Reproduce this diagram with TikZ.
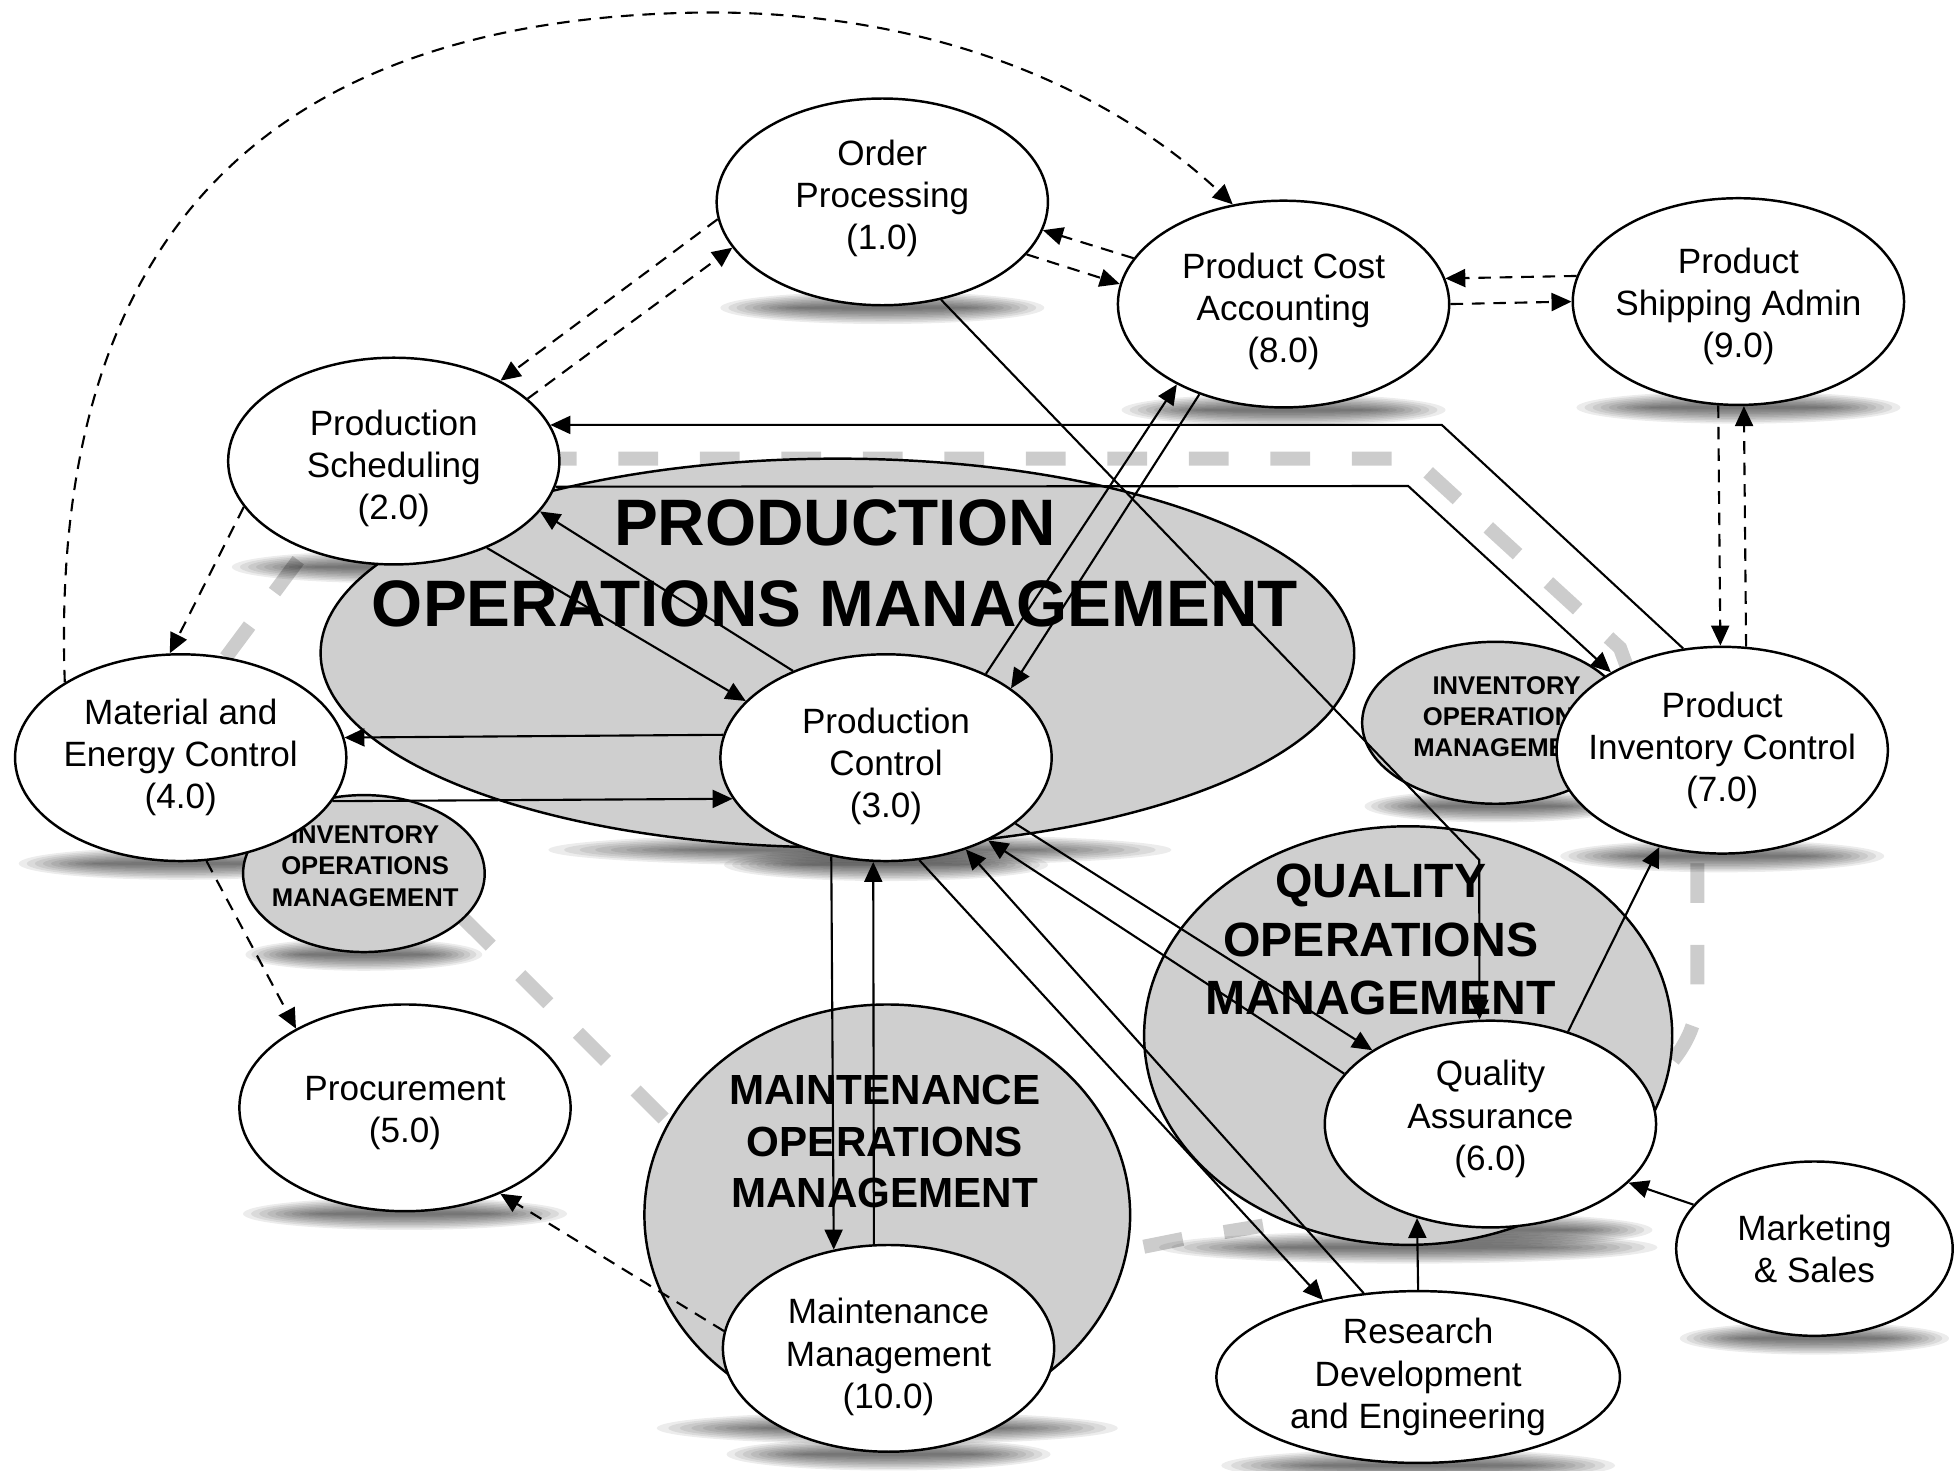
\documentclass[tikz,border=0pt]{standalone}
\usepackage{fontspec}
\setmainfont{Liberation Sans}
\usetikzlibrary{arrows.meta,shapes.geometric}
\newcommand\myshadow[3]{\foreach \k in {1,...,10} {\fill[black, fill opacity=0.075] (#1,#2) ellipse [x radius={#3*(0.5+0.05*\k)}, y radius={1.3*\k}];}}
\begin{document}
\begin{tikzpicture}[x=0.01246cm, y=-0.01246cm,
  proc/.style={ellipse, draw=black, line width=0.7pt, fill=white, inner sep=0pt,
    minimum width=3.314cm, minimum height=2.068cm},
  region/.style={ellipse, draw=black, line width=0.7pt, fill=black!19, inner sep=0pt},
  ptext/.style={font=\fontsize{10}{12}\selectfont, align=center, inner sep=0pt},
  pomtext/.style={font=\fontsize{18.7}{23}\selectfont\bfseries, align=center, inner sep=0pt},
  qomtext/.style={font=\fontsize{13.7}{16.6}\selectfont\bfseries, align=center, inner sep=0pt},
  momtext/.style={font=\fontsize{12}{14.7}\selectfont\bfseries, align=center, inner sep=0pt},
  invtext/.style={font=\fontsize{7.3}{8.9}\selectfont\bfseries, align=center, inner sep=0pt},
  conn/.style={line width=0.6pt, -{Triangle[length=0.2cm, width=0.18cm]}},
  dconn/.style={conn, dash pattern=on 3.6pt off 2.5pt},
  graydash/.style={draw=black!20, line width=4pt, dash pattern=on 11.3pt off 11.9pt},
]
\useasboundingbox (0,0) rectangle (1568,1180);

% gray dashed boundary
\draw[graydash] (300,368) -- (1134,368) -- (1300,520) -- (1362,690) -- (1362,800)
  .. controls (1362,900) and (1150,965) .. (960,992) -- (905,1003) -- (630,995)
  -- (393,758) -- (172,540) -- cycle;

% shadows
\myshadow{690}{682}{250}
\myshadow{292}{766}{95}
\myshadow{1200}{647}{105}
\myshadow{1130}{1001}{200}
\myshadow{712}{1146}{185}
\myshadow{708}{247}{130}
\myshadow{316}{455}{130}
\myshadow{711}{694}{130}
\myshadow{145}{693}{130}
\myshadow{325}{974}{130}
\myshadow{1196}{987}{130}
\myshadow{1382}{687}{130}
\myshadow{1030}{329}{130}
\myshadow{1395}{327}{130}
\myshadow{713}{1167}{130}
\myshadow{1138}{1176}{158}
\myshadow{1456}{1074}{108}

% gray regions
\node[region, minimum width=10.34cm, minimum height=3.888cm] (pom) at (672,524) {};
\node[region, minimum width=2.417cm, minimum height=1.570cm] (invl) at (292,701) {};
\node[region, minimum width=2.666cm, minimum height=1.620cm] (invr) at (1200,580) {};
\node[region, minimum width=5.283cm, minimum height=4.187cm] (qom) at (1130,831) {};
\node[region, minimum width=4.859cm, minimum height=4.212cm] (mom) at (712,975) {};

\node[pomtext] (pomt) at (670,452) {PRODUCTION\\OPERATIONS MANAGEMENT};
\node[qomtext] (qomt) at (1108,754) {QUALITY\\OPERATIONS\\MANAGEMENT};
\node[momtext] (momt) at (710,916) {MAINTENANCE\\OPERATIONS\\MANAGEMENT};
\node[invtext] (invlt) at (293,695) {INVENTORY\\OPERATIONS\\MANAGEMENT};
\node[invtext] (invrt) at (1209,575) {INVENTORY\\OPERATIONS\\MANAGEMENT};

% process nodes
\node[proc, label={[ptext, yshift=0.035cm]center:Order\\Processing\\(1.0)}] (n1) at (708,162) {};
\node[proc, label={[ptext, yshift=-0.075cm]center:Production\\Scheduling\\(2.0)}] (n2) at (316,370) {};
\node[proc, label={[ptext, yshift=-0.087cm]center:Production\\Control\\(3.0)}] (n3) at (711,608) {};
\node[proc, label={[ptext]center:Material and\\Energy Control\\(4.0)}] (n4) at (145,608) {};
\node[proc, label={[ptext, yshift=-0.05cm]center:Procurement\\(5.0)}] (n5) at (325,889) {};
\node[proc, label={[ptext, yshift=0.05cm]center:Quality\\Assurance\\(6.0)}] (n6) at (1196,902) {};
\node[proc, label={[ptext]center:Product\\Inventory Control\\(7.0)}] (n7) at (1382,602) {};
\node[proc, label={[ptext, yshift=-0.075cm]center:Product Cost\\Accounting\\(8.0)}] (n8) at (1030,244) {};
\node[proc, label={[ptext, yshift=-0.05cm]center:Product\\Shipping Admin\\(9.0)}] (n9) at (1395,242) {};
\node[proc, label={[ptext, yshift=-0.087cm]center:Maintenance\\Management\\(10.0)}] (n10) at (713,1082) {};
\node[proc, minimum width=4.037cm, minimum height=1.719cm,
  label={[ptext]center:Research\\Development\\and Engineering}] (rde) at (1138,1105) {};
\node[proc, minimum width=2.766cm, minimum height=1.744cm,
  label={[ptext]center:Marketing\\\& Sales}] (ms) at (1456,1002) {};

% helper coordinates
\coordinate (arctop) at (570,10);
\coordinate (c1) at (1157,341);
\coordinate (c2) at (1130,390);
\coordinate (c3) at (1187,690);

% dashed connectors
\draw[dconn] (n4.147) .. controls (38,165) and (240,12) .. (arctop)
  .. controls (770,10) and (905,85) .. (n8.117);
\draw[dconn] (n1.186) -- (n2.37);
\draw[dconn] (n2.25) -- (n1.197.5);
\draw[dconn] (n8.163) -- (n1.350);
\draw[dconn] (n1.340) -- (n8.173.5);
\draw[dconn] (n9.171.7) -- (n8.9.2);
\draw[dconn] (n8.0) -- (n9.180.9);
\draw[dconn] (n9.259.7) -- (n7.91.4);
\draw[dconn] (n7.77.65) -- (n9.273.45);
\draw[dconn] (n2.197.4) -- (n4.96.9);
\draw[dconn] (n4.284) -- (n5.144.5);
\draw[dconn] (n10.174.2) -- (n5.318.4);

% solid connectors
\draw[conn] (n7.111.9) -- (c1) -- (n2.13);
\draw[conn] (n2.351.3) -- (c2) -- (n7.145.6);
\draw[conn] (n2.317.4) -- (n3.158);
\draw[conn] (n3.137.7) -- (n2.341.9);
\draw[conn] (n3.172.6) -- (n4.7.44);
\draw[conn] (n4.344.9) -- (n3.195);
\draw[conn] (n3.40.1) -- (n8.217.8);
\draw[conn] (n8.227.7) -- (n3.29.7);
\draw[conn] (n1.301.5) -- (c3) -- (n6.96.5);
\draw[conn] (n6.50.4) -- (n7.237);
\draw[conn] (n3.241.9) -- (n10.119.3);
\draw[conn] (n10.98.3) -- (n3.263.1);
\draw[conn] (n3.333) -- (n6.148.2);
\draw[conn] (n6.161.3) -- (n3.321.5);
\draw[conn] (n3.288.4) -- (rde.141.8);
\draw[conn] (rde.123.1) -- (n3.311.5);
\draw[conn] (rde.90) -- (n6.232.8);
\draw[conn] (ms.160.5) -- (n6.337.9);
\end{tikzpicture}
\end{document}
